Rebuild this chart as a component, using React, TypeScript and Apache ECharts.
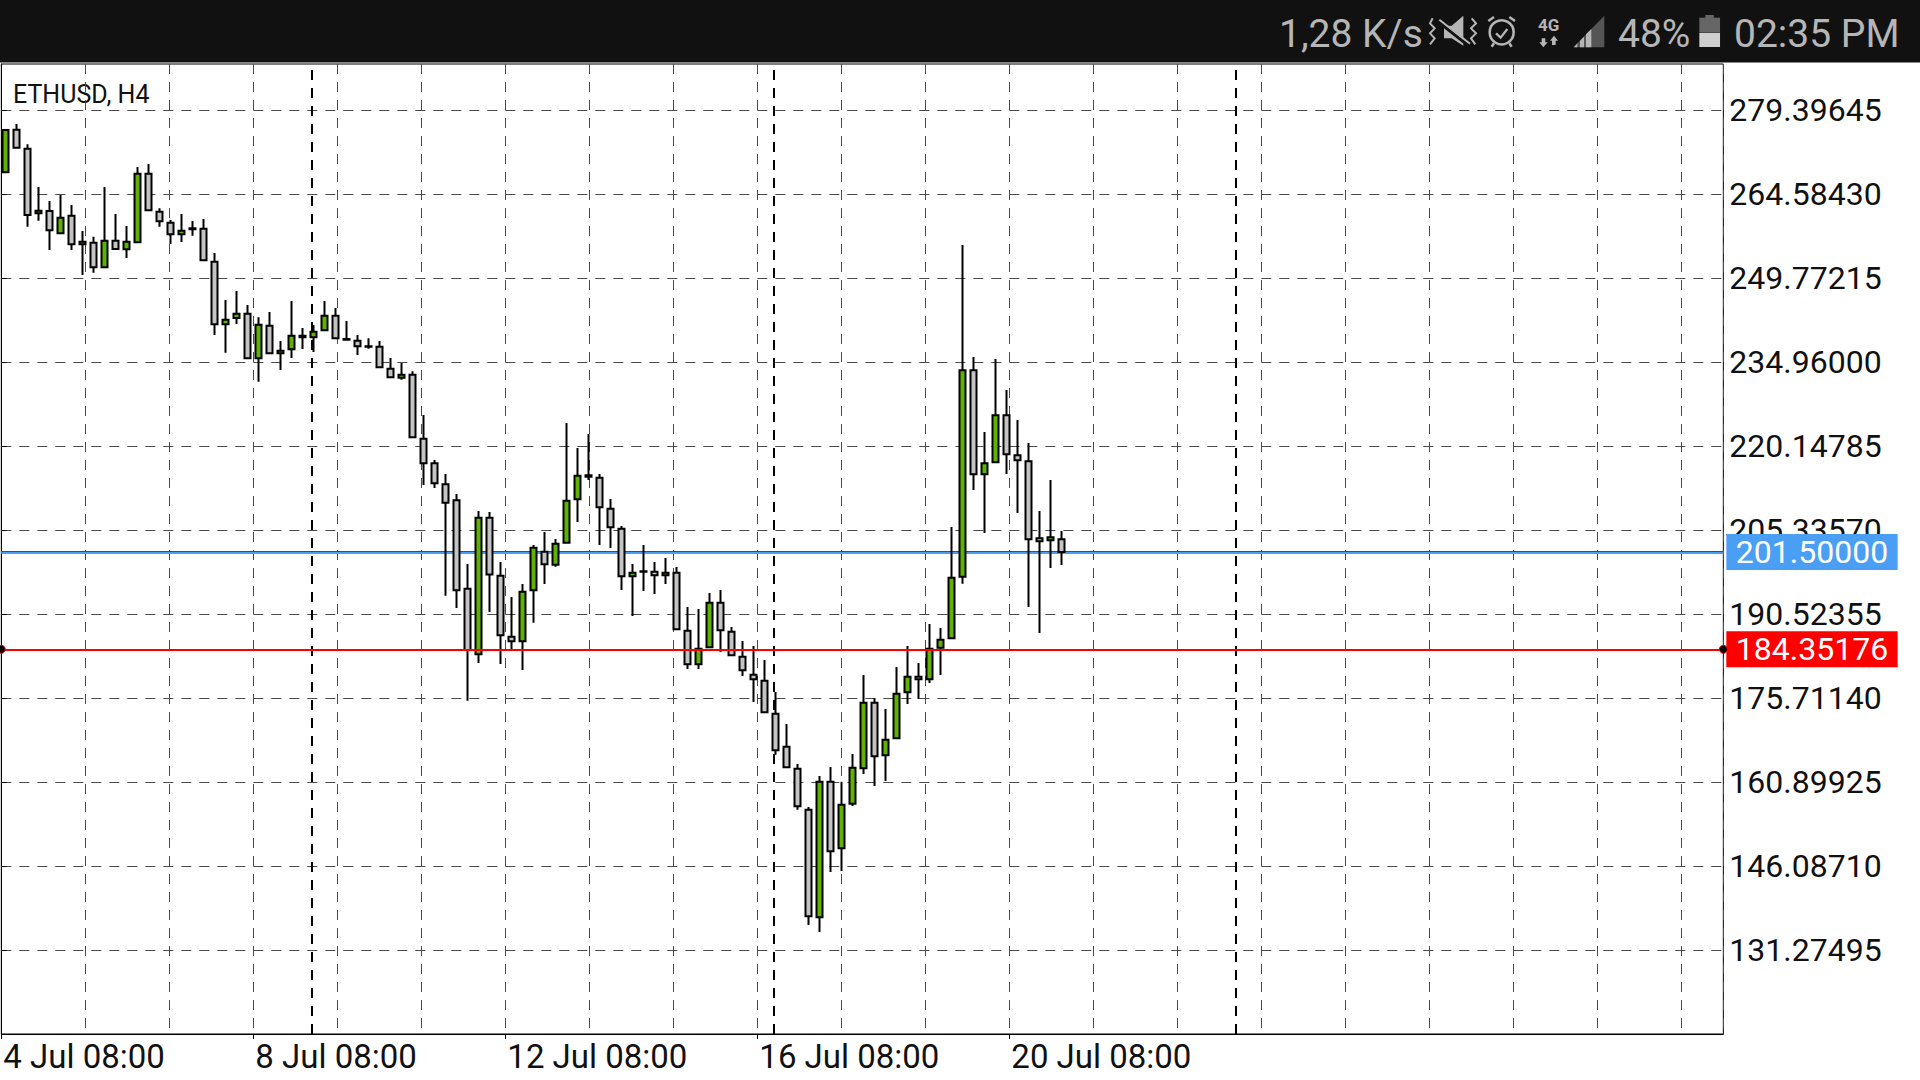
import React, { useEffect, useRef } from "react";
import * as echarts from "echarts";

const opens = [268.46,275.99,272.64,261.23,261.64,257.71,260.82,255.77,256.06,251.71,256.41,254.88,256.12,268.23,261.53,259.59,257.53,258.59,258.53,252.71,241.66,242.77,243.54,235.66,241.42,236.54,237.25,239.66,239.37,240.60,243.18,239.07,238.78,237.78,237.72,233.84,232.25,232.78,221.50,217.15,213.45,210.63,195.05,183.47,207.57,197.34,186.58,185.76,194.75,201.57,199.28,203.16,210.80,215.03,214.62,209.16,205.63,197.22,198.10,198.05,197.40,197.87,187.64,181.71,184.70,192.58,187.47,183.06,179.88,178.83,173.01,167.19,163.31,156.08,137.09,161.02,149.26,157.14,163.37,174.95,165.66,168.66,176.77,179.53,179.06,184.65,186.29,197.16,233.55,215.21,217.33,225.61,218.56,217.50,203.92,203.57,203.75];
const closes = [275.93,272.81,260.94,261.70,258.23,260.47,255.77,256.24,251.71,256.41,254.94,256.24,268.23,261.76,259.82,257.53,258.18,258.41,252.94,241.66,242.48,243.54,235.66,241.60,236.54,237.02,239.66,239.37,240.36,243.18,239.19,238.96,237.78,237.72,234.08,232.31,232.78,221.73,217.15,213.62,210.21,194.75,184.23,207.57,197.56,186.82,185.76,194.52,202.28,199.34,202.98,210.57,214.98,214.80,209.39,205.87,197.22,197.87,198.05,197.40,197.87,187.88,181.71,184.47,192.58,187.70,183.29,180.65,179.06,173.24,166.54,163.54,156.67,137.27,161.02,148.73,156.96,163.49,174.95,165.49,168.42,176.54,179.53,179.06,184.47,186.06,196.99,233.55,215.21,217.15,225.61,218.74,217.68,203.75,203.39,204.10,201.50];
const lows = [268.28,272.64,258.88,259.94,254.77,257.53,254.77,250.36,250.77,251.54,254.77,253.36,255.94,261.59,258.88,255.83,256.18,257.30,252.77,239.78,236.66,241.72,235.49,231.55,236.37,233.61,235.72,237.31,236.78,240.42,239.01,238.84,236.25,237.37,233.90,232.14,231.90,221.56,213.33,212.80,193.81,191.64,175.30,181.94,190.94,181.77,184.35,180.71,189.05,195.87,198.93,202.98,206.80,214.21,202.75,202.22,194.81,190.23,194.64,194.11,195.87,187.70,180.88,180.88,184.53,183.88,183.12,179.65,175.06,173.06,165.78,163.37,156.08,135.74,134.51,145.09,145.27,156.73,162.37,160.25,161.13,168.48,174.71,175.59,178.42,179.83,186.11,195.93,212.45,204.86,217.15,215.27,208.39,191.82,187.23,198.69,199.22];
const highs = [276.10,276.99,273.40,265.88,263.41,264.47,262.70,258.12,257.12,265.88,261.12,259.00,269.40,269.93,262.11,260.06,261.12,259.88,260.23,254.24,245.95,247.54,245.07,242.89,243.83,238.72,245.77,241.01,241.54,245.77,244.54,242.25,239.78,239.19,238.72,235.72,234.84,233.37,225.67,217.74,215.27,211.74,199.40,208.74,208.57,199.75,193.58,195.87,202.75,205.04,203.81,224.26,219.85,222.32,215.27,210.86,206.10,199.40,202.75,199.75,200.46,198.87,191.82,191.46,194.28,194.81,188.29,185.82,184.94,182.47,176.83,171.19,164.13,156.55,162.02,163.60,161.02,165.90,179.83,175.71,173.83,181.24,184.94,181.94,188.82,188.11,205.92,255.65,235.90,222.67,235.54,230.08,224.79,220.73,208.74,214.21,205.22];

const priceTicks = [131.27495,146.0871,160.89925,175.7114,190.52355,205.3357,220.14785,234.96,249.77215,264.5843,279.39645];
const dateLabels = ["4 Jul 08:00","8 Jul 08:00","12 Jul 08:00","16 Jul 08:00","20 Jul 08:00"];
const dateTickCells = [0,3,6,9,12];
const periodSeparators = [3.7,9.2,14.7];
const bidPrice = 201.5;
const askPrice = 201.6;
const markedPrice = 184.35176;
const chartTitle = "ETHUSD, H4";
const statusSpeed = "1,28 K/s";
const statusBattery = "48%";
const statusClock = "02:35 PM";

const PRICE_MIN = 116.522;
const PRICE_MAX = 287.565;
const CELL_MAX = 20.5;
const FONT = "Roboto";
const STATUS_GREY = "#b6b6b6";

const zp = (x: number, y: number): [number, number] => [1420 + x / 3, 5 + y / 3];
const poly = (pts: number[][], fill: string) => ({ type: "polygon", shape: { points: pts.map(([x, y]) => zp(x, y)) }, style: { fill } });
const wire = (pts: number[][], w = 2) => ({ type: "polyline", shape: { points: pts.map(([x, y]) => zp(x, y)) }, style: { stroke: STATUS_GREY, fill: "none", lineWidth: w } });

function statusBar(): any[] {
  const text = (x: number, s: string) => ({ type: "text", x, y: 34, style: { text: s, fill: STATUS_GREY, font: `39px ${FONT}`, textVerticalAlign: "middle" } });
  const [cx, cy] = zp(245, 82);
  const [gx, gy] = zp(386, 60);
  return [
    { type: "rect", shape: { x: 0, y: 0, width: 1920, height: 62.5 }, style: { fill: "#111111" } },
    text(1279, statusSpeed),
    wire([[38,40],[30,55],[44,70],[30,85],[44,100],[30,118]]),
    wire([[155,40],[168,55],[153,70],[168,85],[153,100],[166,118]]),
    poly([[72,62],[95,62],[130,32],[130,122],[95,100],[72,100]], STATUS_GREY),
    { type: "line", shape: { x1: zp(52,48)[0], y1: zp(52,48)[1], x2: zp(145,122)[0], y2: zp(145,122)[1] }, style: { stroke: "#111111", lineWidth: 3 } },
    { type: "line", shape: { x1: zp(58,44)[0], y1: zp(58,44)[1], x2: zp(150,116)[0], y2: zp(150,116)[1] }, style: { stroke: STATUS_GREY, lineWidth: 2 } },
    { type: "circle", shape: { cx, cy, r: 12 }, style: { stroke: STATUS_GREY, fill: "none", lineWidth: 2.5 } },
    wire([[205,48],[222,36]], 2.5),
    wire([[285,48],[268,36]], 2.5),
    wire([[228,85],[242,98],[262,72]], 2.2),
    wire([[222,115],[215,125]], 2.5),
    wire([[268,115],[275,125]], 2.5),
    { type: "text", x: gx, y: gy, style: { text: "4G", fill: STATUS_GREY, font: `bold 17px ${FONT}`, textAlign: "center", textVerticalAlign: "middle" } },
    poly([[365,100],[376,100],[376,112],[383,112],[370,127],[358,112],[365,112]], STATUS_GREY),
    poly([[396,120],[407,120],[407,107],[414,107],[402,92],[390,107],[396,107]], STATUS_GREY),
    poly([[460,127],[553,32],[553,127]], "#555555"),
    poly([[462,127],[472,115],[472,127]], STATUS_GREY),
    poly([[480,127],[480,107],[492,95],[492,127]], STATUS_GREY),
    poly([[498,127],[498,88],[514,72],[514,127]], STATUS_GREY),
    text(1618, statusBattery),
    { type: "rect", shape: { x: zp(856,0)[0], y: zp(0,30)[1], width: 8.5, height: 3 }, style: { fill: "#666666" } },
    { type: "rect", shape: { x: zp(838,0)[0], y: zp(0,38)[1], width: 20.7, height: 15 }, style: { fill: "#666666" } },
    { type: "rect", shape: { x: zp(838,0)[0], y: zp(0,84)[1], width: 20.7, height: 14 }, style: { fill: "#cfcfcf" } },
    text(1734, statusClock),
  ];
}

function priceLabel(bg: string, price: number) {
  return {
    show: true,
    position: "end",
    distance: 3,
    formatter: () => price.toFixed(5),
    color: "#ffffff",
    backgroundColor: bg,
    fontFamily: FONT,
    fontSize: 32,
    lineHeight: 36,
    padding: [0, 9.5, 0, 9.5],
  };
}

export default function App() {
  const ref = useRef<HTMLDivElement>(null);
  useEffect(() => {
    const chart = echarts.init(ref.current!, undefined, { renderer: "svg" });
    const bars = Array.from({ length: 157 }, (_, i) => String(i));
    const candles = opens.map((o, i) => [o, closes[i], lows[i], highs[i]]);
    chart.setOption({
      animation: false,
      backgroundColor: "#ffffff",
      grid: [
        { show: true, left: 1.33, top: 64, width: 1722, height: 970, outerBoundsMode: "none", borderColor: "#000000", borderWidth: 1, backgroundColor: "#ffffff" },
        { left: 0.2, top: 64, width: 1727, height: 970, outerBoundsMode: "none" },
      ],
      xAxis: [
        {
          type: "value", gridIndex: 0, min: 0, max: CELL_MAX, interval: 1, position: "bottom",
          axisLine: { show: false }, axisTick: { show: false }, axisLabel: { show: false },
          splitLine: { show: true, lineStyle: { color: "#4a4a4a", width: 1, type: [10, 8] } },
        },
        {
          type: "value", gridIndex: 0, min: 0, max: CELL_MAX, position: "bottom",
          axisLine: { show: true, lineStyle: { color: "#000000", width: 1 } },
          axisTick: { show: true, length: 5, lineStyle: { color: "#000000" }, customValues: dateTickCells },
          axisLabel: {
            show: true, customValues: dateTickCells, margin: 6, align: "left", color: "#111111",
            padding: [0, 0, 0, 2],
            fontFamily: FONT, fontSize: 33, formatter: (v: number) => dateLabels[v / 3],
          },
          splitLine: { show: false },
        },
        { type: "category", gridIndex: 1, data: bars, boundaryGap: true, show: false },
      ],
      yAxis: [
        {
          type: "value", gridIndex: 0, min: PRICE_MIN, max: PRICE_MAX, position: "right",
          axisLine: { show: true, lineStyle: { color: "#000000", width: 1 } },
          axisTick: { show: true, length: 5, lineStyle: { color: "#000000" }, customValues: priceTicks },
          axisLabel: {
            show: true, customValues: priceTicks, margin: 6, color: "#111111",
            padding: [2, 0, 0, 0],
            fontFamily: FONT, fontSize: 32, formatter: (v: number) => v.toFixed(5),
          },
          splitLine: { show: true, lineStyle: { color: "#4a4a4a", width: 1, type: [10, 8] } },
        },
        { type: "value", gridIndex: 1, min: PRICE_MIN, max: PRICE_MAX, show: false, splitLine: { show: false } },
      ],
      series: [
        {
          type: "line", xAxisIndex: 0, yAxisIndex: 0, data: [], symbol: "none", silent: true,
          markLine: {
            z: 1, silent: true, symbol: "none", animation: false,
            data: [
              ...periodSeparators.map((xAxis) => ({ xAxis, lineStyle: { color: "#000000", width: 2, type: [10, 8] }, label: { show: false } })),
              { yAxis: bidPrice, lineStyle: { color: "#4a9ff5", width: 3, type: "solid" }, label: priceLabel("#4a9ff5", bidPrice) },
            ],
          },
        },
        {
          type: "line", xAxisIndex: 0, yAxisIndex: 0, data: [], symbol: "none", silent: true,
          markLine: {
            z: 1, silent: true, symbol: "none", animation: false,
            data: [{ yAxis: askPrice, lineStyle: { color: "#ff0000", width: 1, type: "solid" }, label: { show: false } }],
          },
        },
        {
          type: "candlestick", xAxisIndex: 2, yAxisIndex: 1, data: candles, barWidth: 6,
          itemStyle: { color: "#5fb300", color0: "#c4c4c4", borderColor: "#000000", borderColor0: "#000000", borderColorDoji: "#000000", borderWidth: 2 },
        },
        {
          type: "line", xAxisIndex: 0, yAxisIndex: 0, data: [], symbol: "none", silent: true,
          markLine: {
            z: 5, silent: true, symbol: "none", animation: false,
            data: [{ yAxis: markedPrice, lineStyle: { color: "#ff0000", width: 2, type: "solid" }, label: priceLabel("#ff0000", markedPrice) }],
          },
          markPoint: {
            z: 6, silent: true, symbol: "circle", symbolSize: 8, itemStyle: { color: "#000000", borderColor: "#ff0000", borderWidth: 1 }, label: { show: false },
            data: [{ xAxis: 0, yAxis: markedPrice }, { xAxis: CELL_MAX, yAxis: markedPrice }],
          },
        },
      ],
      graphic: [
        ...statusBar(),
        { type: "rect", z: 0, shape: { x: 1726, y: 534, width: 171, height: 1 }, style: { fill: "#ff0000" } },
        { type: "text", x: 13, y: 94.5, style: { text: chartTitle, fill: "#111111", font: `25px ${FONT}`, textVerticalAlign: "middle" } },
      ],
    });
    return () => chart.dispose();
  }, []);
  return <div ref={ref} style={{ position: "fixed", left: 0, top: 0, width: 1920, height: 1080 }} />;
}
